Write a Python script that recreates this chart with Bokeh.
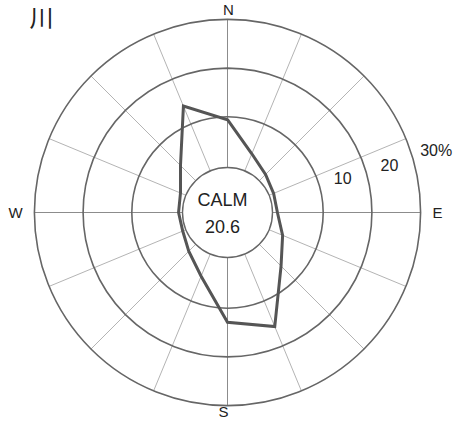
import numpy as np
from bokeh.plotting import figure
from bokeh.models import Range1d
from bokeh.embed import file_html
from bokeh.resources import INLINE
from bokeh.core.properties import value

# ---- data ----
title = "川"
directions = ["N", "NNE", "NE", "ENE", "E", "ESE", "SE", "SSE",
              "S", "SSW", "SW", "WSW", "W", "WNW", "NW", "NNW"]
freq = [9.4, 3.4, 1.4, 0.6, 0.6, 2.6, 5.9, 15.7,
        12.9, 4.5, 1.6, 0.3, 0.4, 0.8, 4.0, 14.0]
calm_label = "CALM"
calm_value = 20.6
ring_values = [10, 20, 30]
ring_labels = ["10", "20", "30%"]
cardinals = ["N", "E", "S", "W"]
cardinal_angles = [0, 90, 180, 270]

# ---- layout (pixels) ----
PX = 4.87            # pixels per percent
CX, CY = 227, 212    # canvas position of the centre
W, H = 472, 421
CALM_R = 47 / PX     # radius where 0 % starts
CALM_CIRCLE = 45 / PX
OUTER = CALM_R + ring_values[-1]

FONT = value("Liberation Sans")

p = figure(width=W, height=H, output_backend="svg", toolbar_location=None,
           x_range=Range1d(-CX / PX, (W - CX) / PX),
           y_range=Range1d((CY - H) / PX, CY / PX),
           x_axis_location=None, y_axis_location=None, min_border=0)
p.grid.visible = False
p.outline_line_color = None
p.background_fill_color = "white"
p.border_fill_color = "white"

theta = np.deg2rad(np.arange(len(directions)) * 360.0 / len(directions))
s, c = np.sin(theta), np.cos(theta)

# spokes
card = np.array([i % 4 == 0 for i in range(len(directions))])
p.segment(x0=CALM_CIRCLE * s[~card], y0=CALM_CIRCLE * c[~card],
          x1=OUTER * s[~card], y1=OUTER * c[~card],
          line_color="#b4b4b4", line_width=1)
p.segment(x0=CALM_CIRCLE * s[card], y0=CALM_CIRCLE * c[card],
          x1=OUTER * s[card], y1=OUTER * c[card],
          line_color="#8c8c8c", line_width=1)

# rings
p.circle(x=[0] * len(ring_values), y=[0] * len(ring_values),
         radius=[CALM_R + v for v in ring_values],
         fill_color=None, line_color="#666666", line_width=1.6)
p.circle(x=[0], y=[0], radius=[CALM_CIRCLE], fill_color=None,
         line_color="#666666", line_width=1.4)

# frequency polygon
r = CALM_R + np.array(freq)
p.patch(x=r * s, y=r * c, fill_color=None, line_color="#555555",
        line_width=3, line_join="miter")

# ring labels
la = np.deg2rad(90 - 16.5)
rl = np.array([CALM_R + v for v in ring_values]) + 24.5 / PX
p.text(x=rl * np.sin(la), y=rl * np.cos(la), text=ring_labels,
       text_align="center", text_baseline="middle", text_font=FONT,
       text_font_size="16px", text_color="#222222")

# cardinal labels (positions in canvas pixels relative to the centre)
cx_off = [1, 210, -4, -212]
cy_off = [212, 0, -207, 0]
cb = ["top", "middle", "bottom", "middle"]
for name, dx, dy, b in zip(cardinals, cx_off, cy_off, cb):
    p.text(x=[dx / PX], y=[dy / PX], text=[name],
           text_align="center", text_baseline=b, text_font=FONT,
           text_font_size="15px", text_color="#222222")

# calm
p.text(x=[-5 / PX, -5 / PX], y=[13 / PX, -13.5 / PX],
       text=[calm_label, f"{calm_value:.1f}"],
       text_align="center", text_baseline="middle", text_font=FONT,
       text_font_size="18px", text_color="#222222")

# title
p.text(x=[(41 - CX) / PX], y=[(CY - 16) / PX], text=[title],
       text_align="center", text_baseline="middle",
       text_font=value("Noto Sans CJK JP"), text_font_size="24px",
       text_color="#222222")

open("out.html", "w").write(file_html(p, INLINE))
